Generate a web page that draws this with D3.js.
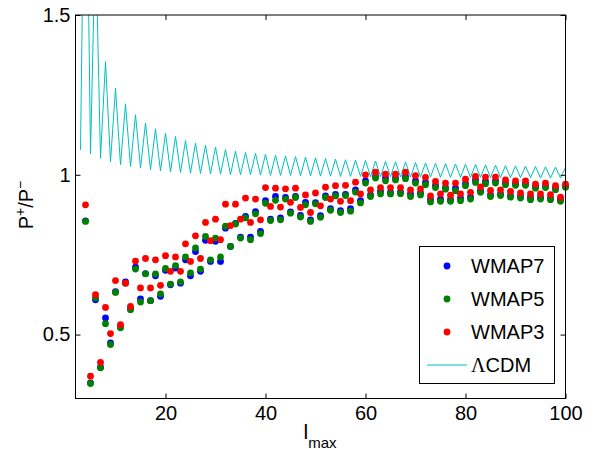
<!DOCTYPE html>
<html><head><meta charset="utf-8">
<script src="https://cdn.jsdelivr.net/npm/d3@7/dist/d3.min.js"></script>
<style>body{margin:0;background:#fff} text{font-family:"Liberation Sans",Arial,Helvetica,sans-serif}</style>
</head><body><svg id="c" width="593" height="449"></svg>
<script>
// ---- data ----
const lmax = [4,5,6,7,8,9,10,11,12,13,14,15,16,17,18,19,20,21,22,23,24,25,26,27,28,29,30,31,32,33,34,35,36,37,38,39,40,41,42,43,44,45,46,47,48,49,50,51,52,53,54,55,56,57,58,59,60,61,62,63,64,65,66,67,68,69,70,71,72,73,74,75,76,77,78,79,80,81,82,83,84,85,86,87,88,89,90,91,92,93,94,95,96,97,98,99,100];
const wmap7 = [0.856,0.349,0.609,0.398,0.552,0.474,0.634,0.524,0.665,0.580,0.711,0.612,0.691,0.606,0.684,0.620,0.701,0.656,0.708,0.661,0.734,0.684,0.760,0.698,0.795,0.729,0.792,0.729,0.833,0.776,0.848,0.805,0.870,0.805,0.885,0.823,0.919,0.861,0.932,0.865,0.929,0.884,0.932,0.873,0.914,0.859,0.913,0.872,0.934,0.894,0.939,0.888,0.939,0.894,0.953,0.919,0.981,0.937,0.995,0.948,0.990,0.945,0.990,0.946,0.995,0.940,0.981,0.943,0.976,0.922,0.967,0.924,0.960,0.922,0.958,0.927,0.972,0.930,0.984,0.951,0.979,0.937,0.981,0.940,0.974,0.935,0.972,0.932,0.972,0.929,0.963,0.929,0.965,0.927,0.958,0.922,0.965];
const wmap5 = [0.854,0.347,0.615,0.396,0.534,0.469,0.632,0.521,0.661,0.578,0.705,0.602,0.690,0.606,0.690,0.627,0.707,0.658,0.716,0.665,0.743,0.693,0.771,0.705,0.807,0.734,0.802,0.743,0.839,0.776,0.846,0.802,0.865,0.797,0.878,0.816,0.911,0.857,0.920,0.859,0.924,0.880,0.929,0.868,0.906,0.854,0.909,0.867,0.929,0.889,0.934,0.882,0.935,0.886,0.946,0.912,0.974,0.932,0.990,0.940,0.981,0.940,0.984,0.941,0.988,0.932,0.974,0.937,0.969,0.915,0.960,0.917,0.955,0.917,0.950,0.919,0.966,0.924,0.976,0.945,0.972,0.932,0.974,0.935,0.969,0.930,0.967,0.927,0.967,0.922,0.958,0.924,0.960,0.922,0.953,0.917,0.961];
const wmap3 = [0.906,0.370,0.625,0.413,0.585,0.503,0.669,0.531,0.661,0.588,0.730,0.646,0.738,0.646,0.734,0.654,0.747,0.698,0.743,0.698,0.784,0.729,0.809,0.738,0.851,0.794,0.861,0.797,0.908,0.841,0.908,0.861,0.927,0.851,0.924,0.859,0.960,0.901,0.958,0.899,0.956,0.914,0.958,0.898,0.937,0.882,0.943,0.903,0.961,0.924,0.966,0.917,0.967,0.919,0.977,0.940,1.000,0.953,1.008,0.960,1.002,0.960,1.002,0.960,1.008,0.953,0.997,0.956,0.992,0.934,0.979,0.940,0.974,0.936,0.974,0.940,0.986,0.945,0.995,0.962,0.993,0.951,0.993,0.953,0.984,0.948,0.981,0.943,0.981,0.940,0.971,0.940,0.974,0.938,0.966,0.930,0.971];
const lcdmL = [3,4,5,6,7,8,9,10,11,12,13,14,15,16,17,18,19,20,21,22,23,24,25,26,27,28,29,30,31,32,33,34,35,36,37,38,39,40,41,42,43,44,45,46,47,48,49,50,51,52,53,54,55,56,57,58,59,60,61,62,63,64,65,66,67,68,69,70,71,72,73,74,75,76,77,78,79,80,81,82,83,84,85,86,87,88,89,90,91,92,93,94,95,96,97,98,99,100];
const lcdm = [1.078,2.30,1.065,1.75,1.052,1.354,1.040,1.271,1.031,1.222,1.026,1.188,1.021,1.162,1.016,1.144,1.012,1.130,1.009,1.120,1.007,1.107,1.005,1.099,1.004,1.092,1.003,1.087,1.002,1.079,1.001,1.074,1.000,1.070,1.000,1.067,0.999,1.064,0.998,1.061,0.998,1.059,0.998,1.057,0.997,1.055,0.997,1.053,0.996,1.051,0.996,1.049,0.995,1.047,0.995,1.046,0.995,1.045,0.994,1.043,0.994,1.042,0.994,1.041,0.993,1.040,0.993,1.038,0.993,1.037,0.993,1.036,0.992,1.035,0.992,1.034,0.992,1.033,0.992,1.032,0.992,1.031,0.991,1.030,0.991,1.029,0.991,1.028,0.991,1.027,0.991,1.026,0.990,1.025,0.990,1.024,0.990,1.023];
const xTicks = [20,40,60,80,100];
const yTicks = [0.5,1,1.5];
const seriesNames = ["WMAP7","WMAP5","WMAP3"];
const seriesColors = ["#0000ff","#008000","#ff0000"];
const lcdmColor = "#00bfbf";

// ---- drawing ----
const svg = d3.select("#c");
const L = 75.5, R = 565.5, T = 15, B = 398.5;
const x = d3.scaleLinear().domain([2,100]).range([L,R]);
const y = d3.scaleLinear().domain([0.3,1.5]).range([B,T]);

svg.append("defs").append("clipPath").attr("id","pc")
  .append("rect").attr("x",L).attr("y",T).attr("width",R-L).attr("height",B-T);

// LCDM line
const lineData = lcdmL.map((l,i)=>[l,lcdm[i]]);
svg.append("path").datum(lineData)
  .attr("clip-path","url(#pc)")
  .attr("fill","none").attr("stroke",lcdmColor).attr("stroke-width",1)
  .attr("d", d3.line().x(d=>x(d[0])).y(d=>y(d[1])));

// points
const seriesVals = [wmap7, wmap5, wmap3];
seriesVals.forEach((vals, si) => {
  svg.append("g").selectAll("circle").data(lmax.map((l,i)=>[l,vals[i]]))
    .join("circle")
    .attr("cx", d=>x(d[0])).attr("cy", d=>y(d[1])).attr("r",3.4)
    .attr("fill", seriesColors[si]);
});

// axes
const fs = "20px";
const ax = svg.append("g").attr("transform",`translate(0,${B})`)
  .call(d3.axisBottom(x).tickValues(xTicks).tickSizeInner(-5).tickSizeOuter(0).tickPadding(7).tickFormat(d3.format("d")));
const axT = svg.append("g").attr("transform",`translate(0,${T})`)
  .call(d3.axisTop(x).tickValues(xTicks).tickSizeInner(-5).tickSizeOuter(0).tickFormat(""));
const ay = svg.append("g").attr("transform",`translate(${L},0)`)
  .call(d3.axisLeft(y).tickValues(yTicks).tickSizeInner(-5).tickSizeOuter(0).tickPadding(5).tickFormat(d=>String(d)));
const ayR = svg.append("g").attr("transform",`translate(${R},0)`)
  .call(d3.axisRight(y).tickValues(yTicks).tickSizeInner(-5).tickSizeOuter(0).tickFormat(""));
[ax,axT,ay,ayR].forEach(g=>{
  g.select(".domain").remove();
  g.selectAll("line").attr("stroke","#000");
  g.selectAll("text").attr("fill","#000").style("font-size",fs)
    .style("font-family",'"Liberation Sans",Arial,sans-serif');
});
svg.append("rect").attr("x",L).attr("y",T).attr("width",R-L).attr("height",B-T)
  .attr("fill","none").attr("stroke","#000").attr("stroke-width",1);

// axis labels
const xl = svg.append("text").attr("x",320).attr("y",439).attr("text-anchor","middle")
  .style("font-size","21px").attr("fill","#000");
xl.append("tspan").text("l");
xl.append("tspan").attr("dy",8.5).style("font-size","15px").text("max");

const yl = svg.append("text").attr("transform",`translate(33,205) rotate(-90)`)
  .attr("text-anchor","middle").style("font-size","20px").attr("fill","#000");
yl.append("tspan").text("P");
yl.append("tspan").attr("dy",-8).style("font-size","14px").text("+");
yl.append("tspan").attr("dy",8).text("/P");
yl.append("tspan").attr("dy",-8).style("font-size","14px").text("\u2212");

// legend
const lg = svg.append("g");
lg.append("rect").attr("x",419.5).attr("y",246.5).attr("width",135).attr("height",137)
  .attr("fill","#fff").attr("stroke","#000").attr("stroke-width",1);
const ly = [266,299,332];
seriesNames.forEach((n,i)=>{
  lg.append("circle").attr("cx",447).attr("cy",ly[i]).attr("r",3.4).attr("fill",seriesColors[i]);
  lg.append("text").attr("x",471).attr("y",ly[i]).attr("dy","0.36em").style("font-size","20px").attr("fill","#000").text(n);
});
lg.append("line").attr("x1",427).attr("x2",467).attr("y1",365).attr("y2",365).attr("stroke",lcdmColor).attr("stroke-width",1);
const lt = lg.append("text").attr("x",471).attr("y",365).attr("dy","0.36em").style("font-size","20px").attr("fill","#000");
lt.append("tspan").style("font-family",'"Liberation Serif","Times New Roman",serif').text("\u039B");
lt.append("tspan").text("CDM");
</script></body></html>
